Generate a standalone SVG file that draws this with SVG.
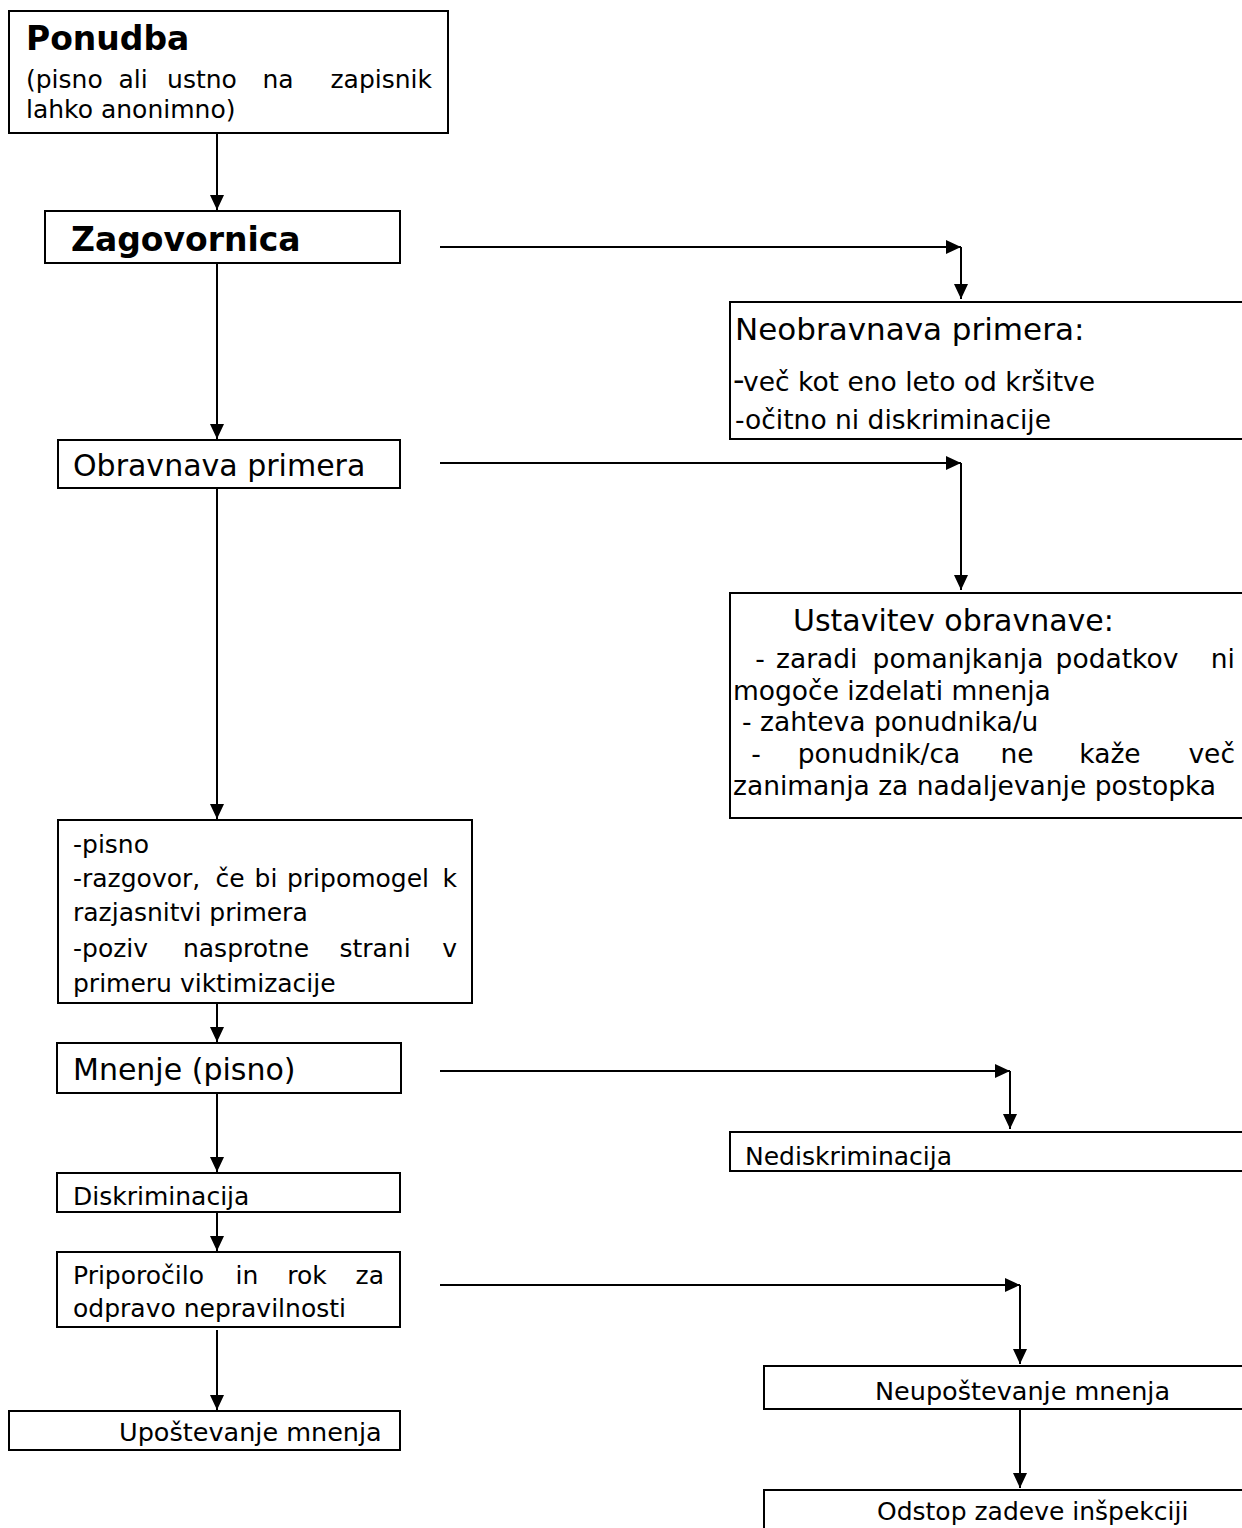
<svg xmlns="http://www.w3.org/2000/svg" width="1242" height="1528" viewBox="0 0 1242 1528">
<defs>
<marker id="ah" markerUnits="userSpaceOnUse" markerWidth="15" markerHeight="14" viewBox="0 0 15 14" refX="15" refY="7" orient="auto">
<path d="M0,0 L15,7 L0,14 z" fill="#000"/>
</marker>
<style>
.box{fill:#fff;stroke:#000;stroke-width:2}
.t{font-family:"DejaVu Sans","Verdana",sans-serif;fill:#000}
.b{font-weight:bold;font-size:33px}
.c{fill:none;stroke:#000;stroke-width:2;marker-end:url(#ah)}
.l{fill:none;stroke:#000;stroke-width:2}
.m{text-anchor:middle}
.e{text-anchor:end}
</style>
</defs>
<rect width="1242" height="1528" fill="#fff"/>

<g id="connectors">
<line class="c" x1="217" y1="133" x2="217" y2="210"/>
<line class="c" x1="217" y1="263" x2="217" y2="439"/>
<line class="c" x1="217" y1="488" x2="217" y2="819"/>
<line class="c" x1="217" y1="995" x2="217" y2="1042"/>
<line class="c" x1="217" y1="1093" x2="217" y2="1172"/>
<line class="c" x1="217" y1="1209" x2="217" y2="1251"/>
<line class="c" x1="217" y1="1330" x2="217" y2="1410"/>
<line class="c" x1="440" y1="247" x2="961" y2="247"/>
<line class="c" x1="961" y1="247" x2="961" y2="299"/>
<line class="c" x1="440" y1="463" x2="961" y2="463"/>
<line class="c" x1="961" y1="463" x2="961" y2="590"/>
<line class="c" x1="440" y1="1071" x2="1010" y2="1071"/>
<line class="c" x1="1010" y1="1071" x2="1010" y2="1129"/>
<line class="c" x1="440" y1="1285" x2="1020" y2="1285"/>
<line class="c" x1="1020" y1="1285" x2="1020" y2="1364"/>
<line class="c" x1="1020" y1="1409" x2="1020" y2="1488"/>
</g>

<g id="n-ponudba">
<rect class="box" x="9" y="11" width="439" height="122"/>
<text class="t b" x="26" y="50">Ponudba</text>
<g class="t" font-size="25">
<text x="26" y="88">(pisno</text>
<text class="m" x="133" y="88">ali</text>
<text class="m" x="202" y="88">ustno</text>
<text class="m" x="278" y="88">na</text>
<text class="e" x="432" y="88">zapisnik</text>
<text x="26" y="118">lahko anonimno)</text>
</g>
</g>

<g id="n-zagovornica">
<rect class="box" x="45" y="211" width="355" height="52"/>
<text class="t b" x="71" y="251">Zagovornica</text>
</g>

<g id="n-neobravnava">
<path class="l" d="M1250,302 H730 V439 H1250"/>
<text class="t" x="735" y="340" font-size="31">Neobravnava primera:</text>
<text class="t" x="733" y="391" font-size="32">-</text>
<text class="t" x="743" y="391" font-size="26.5">več kot eno leto od kršitve</text>
<text class="t" x="735" y="429" font-size="26.5">-očitno ni diskriminacije</text>
</g>

<g id="n-obravnava">
<rect class="box" x="58" y="440" width="342" height="48"/>
<text class="t" x="73" y="476" font-size="30">Obravnava primera</text>
</g>

<g id="n-ustavitev">
<path class="l" d="M1250,593 H730 V818 H1250"/>
<g class="t" font-size="26.5">
<text x="793" y="631" font-size="30">Ustavitev obravnave:</text>
<text class="m" x="760" y="668">-</text>
<text x="776" y="668">zaradi</text>
<text class="m" x="958" y="668">pomanjkanja</text>
<text class="m" x="1117" y="668">podatkov</text>
<text class="e" x="1235" y="668">ni</text>
<text x="733" y="700">mogoče izdelati mnenja</text>
<text x="742" y="731">- zahteva ponudnika/u</text>
<text class="m" x="756" y="763">-</text>
<text class="m" x="879" y="763">ponudnik/ca</text>
<text class="m" x="1017" y="763">ne</text>
<text class="m" x="1110" y="763">kaže</text>
<text class="e" x="1235" y="763">več</text>
<text x="733" y="795">zanimanja za nadaljevanje postopka</text>
</g>
</g>

<g id="n-postopek">
<rect class="box" x="58" y="820" width="414" height="183"/>
<g class="t" font-size="25">
<text x="73" y="853">-pisno</text>
<text x="73" y="887">-razgovor,</text>
<text class="m" x="230" y="887">če</text>
<text class="m" x="266" y="887">bi</text>
<text class="m" x="358" y="887">pripomogel</text>
<text class="e" x="457" y="887">k</text>
<text x="73" y="921">razjasnitvi primera</text>
<text x="73" y="957">-poziv</text>
<text class="m" x="246" y="957">nasprotne</text>
<text class="m" x="375" y="957">strani</text>
<text class="e" x="457" y="957">v</text>
<text x="73" y="992">primeru viktimizacije</text>
</g>
</g>

<g id="n-mnenje">
<rect class="box" x="57" y="1043" width="344" height="50"/>
<text class="t" x="73" y="1080" font-size="30">Mnenje (pisno)</text>
</g>

<g id="n-nediskriminacija">
<path class="l" d="M1250,1132 H730 V1171 H1250"/>
<text class="t" x="745" y="1165" font-size="25">Nediskriminacija</text>
</g>

<g id="n-diskriminacija">
<rect class="box" x="57" y="1173" width="343" height="39"/>
<text class="t" x="73" y="1205" font-size="25">Diskriminacija</text>
</g>

<g id="n-priporocilo">
<rect class="box" x="57" y="1252" width="343" height="75"/>
<g class="t" font-size="25">
<text x="73" y="1284">Priporočilo</text>
<text class="m" x="247" y="1284">in</text>
<text class="m" x="307" y="1284">rok</text>
<text class="e" x="384" y="1284">za</text>
<text x="73" y="1317">odpravo nepravilnosti</text>
</g>
</g>

<g id="n-upostevanje">
<rect class="box" x="9" y="1411" width="391" height="39"/>
<text class="t" x="119" y="1441" font-size="25.5">Upoštevanje mnenja</text>
</g>

<g id="n-neupostevanje">
<path class="l" d="M1250,1366 H764 V1409 H1250"/>
<text class="t" x="875" y="1400" font-size="25.5">Neupoštevanje mnenja</text>
</g>

<g id="n-odstop">
<path class="l" d="M1250,1490 H764 V1540"/>
<text class="t" x="877" y="1520" font-size="25">Odstop zadeve inšpekciji</text>
</g>
</svg>
